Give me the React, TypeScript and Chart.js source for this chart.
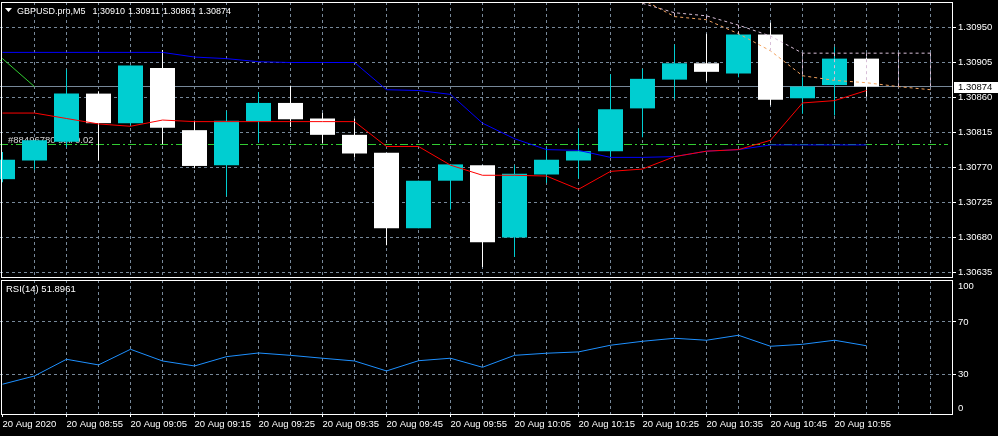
import React, { useEffect, useRef } from "react";
import { Chart, registerables } from "chart.js";

Chart.register(...registerables);

// ---------- data ----------
const symbolName = "GBPUSD.pro,M5";
const opens = [1.30755, 1.30779, 1.30803, 1.30865, 1.30827, 1.30898, 1.30818, 1.30773, 1.30829, 1.30853, 1.30833, 1.30812, 1.30789, 1.30692, 1.30753, 1.30773, 1.3068, 1.30761, 1.30779, 1.30791, 1.30846, 1.30883, 1.30904, 1.30891, 1.30941, 1.30859, 1.30876, 1.3091];
const highs = [1.3079, 1.30805, 1.30896, 1.30868, 1.30901, 1.30921, 1.3083, 1.30843, 1.30867, 1.30875, 1.3084, 1.30833, 1.30789, 1.30753, 1.30774, 1.30773, 1.30773, 1.30796, 1.3082, 1.3089, 1.30897, 1.30928, 1.30942, 1.30941, 1.30956, 1.30886, 1.30925, 1.30911];
const lows = [1.30751, 1.30767, 1.30796, 1.30779, 1.30823, 1.308, 1.30769, 1.30733, 1.30802, 1.30822, 1.30801, 1.30783, 1.3067, 1.30692, 1.30716, 1.30642, 1.30655, 1.3075, 1.30756, 1.30783, 1.30809, 1.30858, 1.30881, 1.30886, 1.3085, 1.30839, 1.30837, 1.30861];
const closes = [1.3078, 1.30805, 1.30865, 1.30827, 1.30901, 1.30821, 1.30772, 1.3083, 1.30853, 1.30832, 1.30812, 1.30788, 1.30692, 1.30753, 1.30774, 1.30674, 1.30762, 1.3078, 1.30791, 1.30845, 1.30884, 1.30904, 1.30893, 1.30941, 1.30857, 1.30874, 1.3091, 1.30874];
const tenkan = [1.3084, 1.3084, 1.30833, 1.30826, 1.30823, 1.30831, 1.30829, 1.30829, 1.30829, 1.30829, 1.30829, 1.30829, 1.30797, 1.30797, 1.30773, 1.3076, 1.3076, 1.30759, 1.30742, 1.30765, 1.30768, 1.30784, 1.30791, 1.30793, 1.30805, 1.30853, 1.30856, 1.30869];
const kijun = [1.30918, 1.30918, 1.30918, 1.30918, 1.30918, 1.30918, 1.30912, 1.3091, 1.30906, 1.30905, 1.30905, 1.30905, 1.3087, 1.30869, 1.30864, 1.30827, 1.30807, 1.30793, 1.30792, 1.30783, 1.30783, 1.30784, 1.30791, 1.30793, 1.30799, 1.30799, 1.30799, 1.30799];
const chikouBars = [-1, 0, 1];
const chikou = [1.30874, 1.3091, 1.30874];
const spanBars = [20, 21, 22, 23, 24, 25, 26, 27, 28, 29];
const spanA = [1.30986, 1.30964, 1.3096, 1.30942, 1.3092, 1.30888, 1.30882, 1.30879, 1.30874, 1.3087];
const spanB = [1.30981, 1.30969, 1.30965, 1.30953, 1.30939, 1.30917, 1.30917, 1.30917, 1.30917, 1.30917];
const rsi = [22.6, 28.9, 41.6, 37.3, 49.2, 40.3, 36.5, 43.6, 46.4, 44.6, 42.4, 40.3, 32.7, 40.5, 42.4, 35.5, 44.6, 46.2, 47.2, 52.3, 55.3, 57.6, 56.1, 59.9, 51.5, 53.0, 56.1, 51.8961];
const rsiLevels = [70, 30];
const rsiAxisLabels = [100, 70, 30, 0];
const priceTicks = [1.3095, 1.30905, 1.3086, 1.30815, 1.3077, 1.30725, 1.3068, 1.30635];
const timeLabelBars = [0, 2, 4, 6, 8, 10, 12, 14, 16, 18, 20, 22, 24, 26];
const timeLabels = ["20 Aug 2020", "20 Aug 08:55", "20 Aug 09:05", "20 Aug 09:15", "20 Aug 09:25", "20 Aug 09:35", "20 Aug 09:45", "20 Aug 09:55", "20 Aug 10:05", "20 Aug 10:15", "20 Aug 10:25", "20 Aug 10:35", "20 Aug 10:45", "20 Aug 10:55"];
const gridBars = [1, 2, 3, 4, 5, 6, 7, 8, 9, 10, 11, 12, 13, 14, 15, 16, 17, 18, 19, 20, 21, 22, 23, 24, 25, 26, 27, 28, 29];
const orderPrice = 1.30799;
const orderText = "#88496780 sell 0.02";
const rsiTitle = "RSI(14)";

// ---------- axis ranges & styles ----------
const X_MIN = -0.078125;
const X_MAX = 29.671875;
const P_MIN = 1.30629214;
const P_MAX = 1.30982786;
const R_MIN = -0.1;
const R_MAX = 102;
const FONT = '"Liberation Sans", Arial, sans-serif';
const FSIZE = 9.5;
const GRID = "#778899";
const CYAN = "#00CED1";
const WHITE = "#ffffff";

function hline(ctx: CanvasRenderingContext2D, x1: number, x2: number, y: number) {
  ctx.beginPath();
  ctx.moveTo(x1, y);
  ctx.lineTo(x2, y);
  ctx.stroke();
}
function vline(ctx: CanvasRenderingContext2D, x: number, y1: number, y2: number) {
  ctx.beginPath();
  ctx.moveTo(x, y1);
  ctx.lineTo(x, y2);
  ctx.stroke();
}

export default function App() {
  const mainRef = useRef<HTMLCanvasElement | null>(null);
  const rsiRef = useRef<HTMLCanvasElement | null>(null);

  useEffect(() => {
    document.body.style.margin = "0";
    document.body.style.background = "#000";
    const bars = opens.map((_, i) => i);
    const last = bars.length - 1;
    const candleColors = bars.map((i) => (closes[i] >= opens[i] ? CYAN : WHITE));

    const mainDecor = {
      id: "mainDecor",
      beforeDatasetsDraw(chart: any) {
        const { ctx, chartArea: a, scales } = chart;
        const x = scales.x;
        const y = scales.y;
        ctx.save();
        ctx.lineWidth = 1;
        ctx.strokeStyle = GRID;
        ctx.setLineDash([3, 3]);
        gridBars.forEach((k) => vline(ctx, Math.floor(x.getPixelForValue(k)) + 0.5, a.top, a.bottom));
        priceTicks.forEach((p) => hline(ctx, a.left, a.right, Math.floor(y.getPixelForValue(p)) + 0.5));
        // bid line
        ctx.setLineDash([]);
        hline(ctx, a.left, a.right, Math.floor(y.getPixelForValue(closes[last])) + 0.5);
        // order line
        const oy = Math.floor(y.getPixelForValue(orderPrice)) + 0.5;
        ctx.strokeStyle = "#32CD32";
        ctx.setLineDash([8, 3, 2, 3]);
        hline(ctx, a.left, a.right - 4, oy);
        ctx.setLineDash([]);
        ctx.font = `${FSIZE}px ${FONT}`;
        ctx.fillStyle = "#d4d4d4";
        ctx.textBaseline = "alphabetic";
        ctx.textAlign = "left";
        ctx.fillText(orderText, 8, oy - 1.5);
        ctx.restore();
      },
      afterDatasetsDraw(chart: any) {
        const { ctx, chartArea: a, scales } = chart;
        const x = scales.x;
        const y = scales.y;
        ctx.save();
        // cloud hatch
        ctx.save();
        ctx.beginPath();
        ctx.rect(a.left, a.top, a.right - a.left, a.bottom - a.top);
        ctx.clip();
        ctx.lineWidth = 1;
        ctx.setLineDash([3, 3]);
        spanBars.forEach((k, i) => {
          ctx.strokeStyle = spanB[i] > spanA[i] ? "#D8BFD8" : "#F4A460";
          const px = Math.floor(x.getPixelForValue(k)) + 0.5;
          vline(ctx, px, y.getPixelForValue(spanB[i]), y.getPixelForValue(spanA[i]));
        });
        ctx.restore();
        // frame
        ctx.strokeStyle = WHITE;
        ctx.lineWidth = 1;
        ctx.setLineDash([]);
        ctx.strokeRect(1.5, a.top + 0.5, a.right - 1, a.bottom - a.top);
        // title
        ctx.fillStyle = WHITE;
        ctx.beginPath();
        ctx.moveTo(5, 8);
        ctx.lineTo(12, 8);
        ctx.lineTo(8.5, 12);
        ctx.closePath();
        ctx.fill();
        ctx.font = `9px ${FONT}`;
        ctx.textAlign = "left";
        ctx.textBaseline = "alphabetic";
        let tx = 17;
        ctx.fillText(symbolName, tx, 14);
        tx += ctx.measureText(symbolName).width + 7;
        const vals = [opens[last], highs[last], lows[last], closes[last]];
        vals.forEach((v) => {
          const s = v.toFixed(5);
          ctx.fillText(s, tx, 14);
          tx += ctx.measureText(s).width + 3;
        });
        // current price box
        ctx.font = `${FSIZE}px ${FONT}`;
        const cy = y.getPixelForValue(closes[last]);
        ctx.fillStyle = WHITE;
        ctx.fillRect(954, Math.round(cy) - 5, 44, 11);
        ctx.fillStyle = "#000";
        ctx.textBaseline = "middle";
        ctx.fillText(closes[last].toFixed(5), 958, Math.round(cy) + 0.5);
        ctx.restore();
      },
    };

    const lineBase = { type: "line", borderWidth: 1, pointRadius: 0, tension: 0, fill: false, order: 1 };

    const main = new Chart(mainRef.current as HTMLCanvasElement, {
      type: "bar",
      data: {
        datasets: [
          { ...lineBase, label: "Tenkan", data: bars.map((i) => ({ x: i, y: tenkan[i] })), borderColor: "#FF0000" },
          { ...lineBase, label: "Kijun", data: bars.map((i) => ({ x: i, y: kijun[i] })), borderColor: "#0000FF" },
          { ...lineBase, label: "Chikou", data: chikouBars.map((k, i) => ({ x: k, y: chikou[i] })), borderColor: "#32CD32" },
          { ...lineBase, label: "SpanA", data: spanBars.map((k, i) => ({ x: k, y: spanA[i] })), borderColor: "#F4A460", borderDash: [3, 3] },
          { ...lineBase, label: "SpanB", data: spanBars.map((k, i) => ({ x: k, y: spanB[i] })), borderColor: "#D8BFD8", borderDash: [3, 3] },
          {
            type: "bar", label: "Body", data: bars.map((i) => ({ x: i, y: [opens[i], closes[i]] })),
            backgroundColor: candleColors, borderWidth: 0, barThickness: 25, grouped: false, inflateAmount: 0, order: 5,
          },
          {
            type: "bar", label: "Wick", data: bars.map((i) => ({ x: i, y: [lows[i], highs[i]] })),
            backgroundColor: candleColors, borderWidth: 0, barThickness: 1, grouped: false, inflateAmount: 0, order: 6,
          },
        ] as any,
      },
      options: {
        responsive: false,
        animation: false,
        devicePixelRatio: 1,
        events: [],
        layout: { padding: { top: 2, bottom: 3, left: 0, right: 0 } },
        plugins: { legend: { display: false }, tooltip: { enabled: false } },
        scales: {
          x: { type: "linear", display: false, min: X_MIN, max: X_MAX, offset: false },
          y: {
            type: "linear", position: "right", min: P_MIN, max: P_MAX,
            afterBuildTicks: (s: any) => { s.ticks = priceTicks.map((v) => ({ value: v })); },
            afterFit: (s: any) => { s.width = 46; s.paddingTop = 0; s.paddingBottom = 0; },
            ticks: { color: WHITE, font: { family: FONT, size: FSIZE }, padding: 2, callback: (v: any) => Number(v).toFixed(5) },
            grid: { display: true, drawOnChartArea: false, tickLength: 4, tickColor: WHITE },
            border: { display: false },
          },
        },
      } as any,
      plugins: [mainDecor],
    } as any);

    const rsiDecor = {
      id: "rsiDecor",
      beforeDatasetsDraw(chart: any) {
        const { ctx, chartArea: a, scales } = chart;
        ctx.save();
        ctx.lineWidth = 1;
        ctx.strokeStyle = GRID;
        ctx.setLineDash([3, 3]);
        gridBars.forEach((k) => vline(ctx, Math.floor(scales.x.getPixelForValue(k)) + 0.5, a.top, a.bottom));
        rsiLevels.forEach((lv) => hline(ctx, a.left, a.right, Math.floor(scales.y.getPixelForValue(lv)) + 0.5));
        ctx.restore();
      },
      afterDatasetsDraw(chart: any) {
        const { ctx, chartArea: a, scales } = chart;
        ctx.save();
        ctx.strokeStyle = WHITE;
        ctx.lineWidth = 1;
        ctx.strokeRect(1.5, a.top + 0.5, a.right - 1, a.bottom - a.top);
        ctx.fillStyle = WHITE;
        ctx.font = `${FSIZE}px ${FONT}`;
        ctx.textAlign = "left";
        ctx.textBaseline = "alphabetic";
        ctx.fillText(`${rsiTitle} ${rsi[rsi.length - 1].toFixed(4)}`, 6, a.top + 12);
        ctx.textBaseline = "middle";
        rsiAxisLabels.forEach((v) => {
          const py = Math.min(Math.max(scales.y.getPixelForValue(v), a.top + 6), a.bottom - 6);
          ctx.fillText(String(v), 958, py);
        });
        rsiLevels.forEach((lv) => hline(ctx, a.right, a.right + 4, Math.floor(scales.y.getPixelForValue(lv)) + 0.5));
        ctx.restore();
      },
    };

    const rsiChart = new Chart(rsiRef.current as HTMLCanvasElement, {
      type: "line",
      data: {
        datasets: [
          { label: "RSI", data: bars.map((i) => ({ x: i, y: rsi[i] })), borderColor: "#1E90FF", borderWidth: 1, pointRadius: 0, tension: 0, fill: false },
        ],
      },
      options: {
        responsive: false,
        animation: false,
        devicePixelRatio: 1,
        events: [],
        layout: { padding: { top: 2, bottom: 0, left: 0, right: 0 } },
        plugins: { legend: { display: false }, tooltip: { enabled: false } },
        scales: {
          x: {
            type: "linear", position: "bottom", min: X_MIN, max: X_MAX, offset: false,
            afterBuildTicks: (s: any) => { s.ticks = timeLabelBars.map((v) => ({ value: v })); },
            afterFit: (s: any) => { s.height = 22; s.paddingLeft = 0; s.paddingRight = 0; },
            ticks: {
              color: WHITE, font: { family: FONT, size: FSIZE }, align: "start", autoSkip: false,
              maxRotation: 0, minRotation: 0, padding: 2,
              callback: (_v: any, i: number) => timeLabels[i],
            },
            grid: { display: true, drawOnChartArea: false, tickLength: 3, tickColor: WHITE },
            border: { display: false },
          },
          y: {
            type: "linear", position: "right", min: R_MIN, max: R_MAX,
            afterFit: (s: any) => { s.width = 46; s.paddingTop = 0; s.paddingBottom = 0; },
            ticks: { display: false },
            grid: { display: false },
            border: { display: false },
          },
        },
      } as any,
      plugins: [rsiDecor],
    } as any);

    return () => {
      main.destroy();
      rsiChart.destroy();
    };
  }, []);

  return (
    <div style={{ position: "relative", width: 998, height: 436, background: "#000", overflow: "hidden" }}>
      <canvas ref={mainRef} width={998} height={280} style={{ position: "absolute", left: 0, top: 0, display: "block" }} />
      <canvas ref={rsiRef} width={998} height={158} style={{ position: "absolute", left: 0, top: 278, display: "block" }} />
    </div>
  );
}
